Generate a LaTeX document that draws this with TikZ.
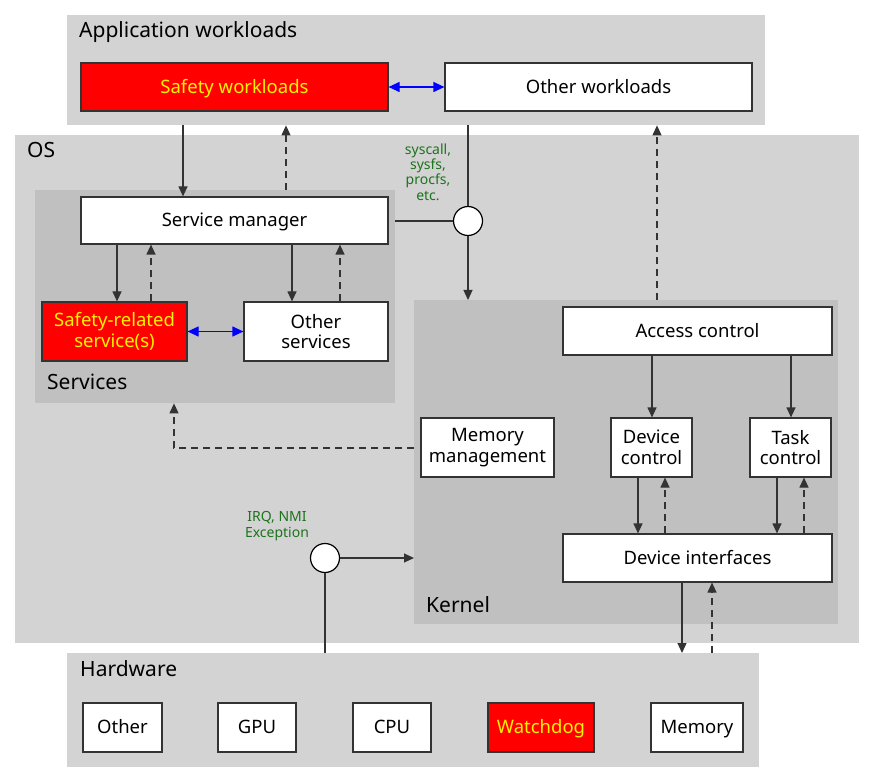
\documentclass[tikz,border=0pt]{standalone}
\usepackage{fontspec}
\setmainfont{Noto Sans}
\usetikzlibrary{arrows.meta}

\definecolor{panelgray}{HTML}{D3D3D3}
\definecolor{innergray}{HTML}{C0C0C0}
\definecolor{boxline}{HTML}{333333}
\definecolor{notegreen}{RGB}{28,115,28}

\begin{document}
\begin{tikzpicture}[x=1pt,y=-1pt,>={Triangle[length=10pt,width=9pt]},
panel/.style={fill=panelgray,anchor=north west,inner sep=0pt},
inner panel/.style={panel,fill=innergray},
panel label/.style={anchor=base west,inner sep=0pt,font=\fontsize{21}{24}\selectfont},
box/.style={draw=boxline,fill=white,line width=1.2pt,align=center,inner sep=0pt,
  font=\fontsize{18.5}{20.5}\selectfont},
one line/.style={text height=15pt,text depth=2.5pt},
safety box/.style={box,fill=red,text=yellow},
junction/.style={circle,draw=black,fill=white,line width=1.2pt,minimum size=29pt,inner sep=0pt},
call/.style={->,line width=1.2pt,draw=boxline},
reply/.style={call,dash pattern=on 7pt off 5pt},
peer/.style={{Triangle[length=11pt,width=10pt]}-{Triangle[length=11pt,width=10pt]},
  line width=1.2pt,draw=blue,fill=blue},
note/.style={text=notegreen,align=center,font=\fontsize{14}{15.3}\selectfont}]

\useasboundingbox (0,0) rectangle (875,783);

% layers
\node[panel,minimum width=698pt,minimum height=110pt] (app) at (67,15) {};
\node[panel,minimum width=844pt,minimum height=508pt] (os) at (15,135) {};
\node[inner panel,minimum width=360pt,minimum height=213pt] (svcpanel) at (35,190) {};
\node[inner panel,minimum width=424pt,minimum height=324pt] (kern) at (414,300) {};
\node[panel,minimum width=692pt,minimum height=114pt] (hw) at (67,653) {};

\node[panel label] (applabel) at (79,38) {Application workloads};
\node[panel label] (oslabel) at (27,158) {OS};
\node[panel label] (svclabel) at (47,389) {Services};
\node[panel label] (kernlabel) at (426,612) {Kernel};
\node[panel label] (hwlabel) at (80,676) {Hardware};

% workloads
\node[safety box,one line,minimum width=307pt,minimum height=48pt] (safew) at (234.5,87) {Safety workloads};
\node[box,one line,minimum width=307pt,minimum height=48pt] (otherw) at (598.5,87) {Other workloads};

% services
\node[box,one line,minimum width=307pt,minimum height=47pt] (svcmgr) at (234.5,220.5) {Service manager};
\node[safety box,minimum width=145pt,minimum height=59pt] (safesvc) at (114.5,331.5) {Safety-related\\service(s)};
\node[box,minimum width=144pt,minimum height=59pt] (othersvc) at (316,331.5) {Other\\services};

% kernel
\node[box,one line,minimum width=269pt,minimum height=48pt] (access) at (697.5,331) {Access control};
\node[box,minimum width=133pt,minimum height=59pt] (memmgmt) at (487.5,447.5) {Memory\\management};
\node[box,minimum width=81pt,minimum height=59pt] (devctl) at (651.5,447.5) {Device\\control};
\node[box,minimum width=81pt,minimum height=59pt] (taskctl) at (790.5,447.5) {Task\\control};
\node[box,one line,minimum width=269pt,minimum height=48pt] (devif) at (697.5,558) {Device interfaces};

% hardware
\node[box,one line,minimum width=79pt,minimum height=49pt] (hwother) at (122.5,727.5) {Other};
\node[box,one line,minimum width=78pt,minimum height=49pt] (gpu) at (257,727.5) {GPU};
\node[box,one line,minimum width=78pt,minimum height=49pt] (cpu) at (392,727.5) {CPU};
\node[safety box,one line,minimum width=106pt,minimum height=49pt] (watchdog) at (541,727.5) {Watchdog};
\node[box,one line,minimum width=92pt,minimum height=49pt] (memory) at (697,727.5) {Memory};

% entry points
\node[junction] (sys) at (468,221) {};
\node[junction] (irq) at (325,558) {};
\node[note] (sysnote) at (428,172) {syscall,\\sysfs,\\procfs,\\etc.};
\node[note] (irqnote) at (277,526) {IRQ, NMI\\Exception};

% connectors
\draw[peer] (safew) -- (otherw);
\draw[peer] (safesvc) -- (othersvc);

\draw[call] (app.south -| 183,0) -- (svcmgr.north -| 183,0);
\draw[reply] (svcpanel.north -| 286,0) -- (app.south -| 286,0);
\draw[call] (svcmgr.south -| 117,0) -- (safesvc.north -| 117,0);
\draw[reply] (safesvc.north -| 151,0) -- (svcmgr.south -| 151,0);
\draw[call] (svcmgr.south -| 292,0) -- (othersvc.north -| 292,0);
\draw[reply] (othersvc.north -| 340,0) -- (svcmgr.south -| 340,0);

\draw[line width=1.2pt,draw=boxline] (app.south -| sys) -- (sys);
\draw[line width=1.2pt,draw=boxline] (svcpanel.east |- sys) -- (sys);
\draw[call] (sys) -- (kern.north -| sys);
\draw[reply] (kern.north -| 657,0) -- (app.south -| 657,0);
\draw[reply] (kern.west |- 0,448) -| (svcpanel.south -| 174,0);

\draw[call] (access.south -| 652,0) -- (devctl.north -| 652,0);
\draw[call] (access.south -| 791,0) -- (taskctl.north -| 791,0);
\draw[call] (devctl.south -| 638,0) -- (devif.north -| 638,0);
\draw[reply] (devif.north -| 665,0) -- (devctl.south -| 665,0);
\draw[call] (taskctl.south -| 777,0) -- (devif.north -| 777,0);
\draw[reply] (devif.north -| 804,0) -- (taskctl.south -| 804,0);
\draw[call] (devif.south -| 682,0) -- (hw.north -| 682,0);
\draw[reply] (hw.north -| 712,0) -- (devif.south -| 712,0);

\draw[line width=1.2pt,draw=boxline] (hw.north -| irq) -- (irq);
\draw[call] (irq) -- (kern.west |- irq);

\end{tikzpicture}
\end{document}
